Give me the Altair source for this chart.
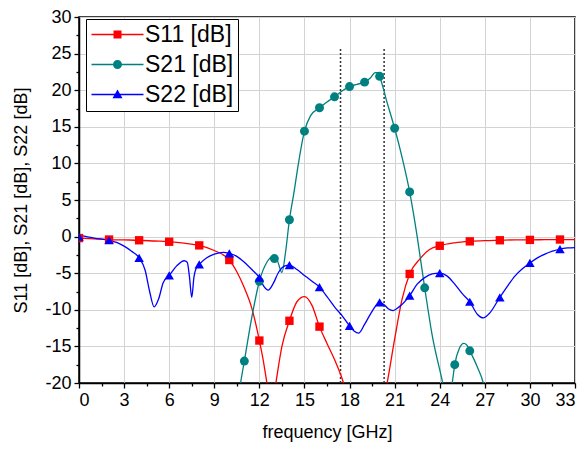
import altair as alt
import pandas as pd

series_names = ["S11 [dB]", "S21 [dB]", "S22 [dB]"]
series_colors = ["#ff0000", "#008080", "#0000ff"]
series_shapes = ["square", "circle", "triangle-up"]

# --- curve samples (values below -20 are off-axis, clipped) ---
s11_freq = [0, 1, 2, 3, 4, 5, 6, 7, 8, 9, 10, 10.5, 11, 11.5, 12, 12.25, 12.5, 12.8, 13.1, 13.5,
            14, 14.5, 15, 15.5, 16, 16.5, 17, 17.6, 18, 19, 20.2, 20.5, 21, 21.5, 22, 22.7, 23.3,
            24, 25, 26, 27, 28, 29, 30, 31, 32, 33]
s11_vals = [-0.2, -0.3, -0.4, -0.45, -0.5, -0.6, -0.7, -0.9, -1.2, -1.9, -3.2, -4.8, -7.0, -9.8,
            -14.2, -16.8, -20, -24, -20, -15.0, -11.5, -8.9, -8.2, -9.4, -12.3, -14.6, -16.8, -20,
            -23, -28, -23, -20, -14.0, -8.5, -5.1, -3.0, -1.8, -1.25, -0.85, -0.65, -0.55, -0.5,
            -0.45, -0.45, -0.42, -0.4, -0.4]

s21_freq = [10.4, 10.75, 11, 11.5, 12, 12.5, 12.9, 13.2, 13.5, 13.75, 14, 14.3, 14.6, 15, 15.4,
            16, 16.5, 17, 17.5, 18, 18.5, 19, 19.4, 19.7, 19.9, 20, 20.5, 21, 21.5, 22, 22.5, 23,
            23.5, 24.2, 24.5, 24.83, 25, 25.3, 25.6, 25.8, 26, 26.5, 26.9, 27.2]
s21_vals = [-25, -20, -17.0, -11.0, -6.1, -3.5, -2.7, -3.3, -4.9, -2.0, 2.3, 6.0, 10.0, 14.4,
            16.5, 17.6, 18.4, 19.1, 19.9, 20.5, 20.8, 21.1, 21.7, 22.4, 22.4, 21.9, 18.3, 14.8,
            10.8, 6.1, 0.0, -7.0, -13.5, -20, -23, -20, -17.5, -15.3, -14.6, -14.8, -15.6, -17.8,
            -20, -23]

s22_freq = [0, 0.5, 1, 2, 2.5, 3, 3.5, 4, 4.4, 4.7, 5.0, 5.3, 5.6, 6, 6.5, 7.0, 7.2, 7.35, 7.5,
            7.65, 7.8, 8, 8.5, 9, 9.6, 10, 10.5, 11, 11.5, 12, 12.3, 12.6, 12.9, 13.3, 13.7, 14,
            14.5, 15, 15.5, 16, 16.5, 17, 17.5, 18, 18.3, 18.6, 19, 19.5, 20, 20.3, 20.6, 20.9,
            21.3, 22, 22.5, 23, 23.5, 24, 24.5, 25, 25.5, 26, 26.5, 26.9, 27.3, 28, 28.5, 29,
            29.5, 30, 30.5, 31, 31.5, 32, 32.5, 33]
s22_vals = [0.2, 0.0, -0.2, -0.5, -0.8, -1.3, -2.0, -2.9, -4.6, -7.5, -9.6, -8.5, -6.3, -5.3,
            -4.0, -3.3, -3.5, -5.5, -8.3, -5.5, -4.3, -3.8, -2.9, -2.4, -2.15, -2.3, -2.7, -3.5,
            -4.5, -5.6, -6.8, -7.3, -6.5, -4.8, -4.0, -3.9, -4.5, -5.3, -6.1, -6.9, -8.2, -9.6,
            -10.8, -12.2, -12.9, -13.2, -12.0, -10.2, -9.0, -9.3, -9.9, -10.1, -9.6, -8.05,
            -6.5, -5.6, -5.1, -5.0, -5.4, -6.5, -7.8, -8.9, -10.6, -11.1, -10.5, -8.3, -6.8,
            -5.4, -4.4, -3.6, -2.9, -2.4, -2.0, -1.7, -1.55, -1.5]

# --- marker positions ---
s11_mark_freq = [0, 2, 4, 6, 8, 10, 12, 14, 16, 22, 24, 26, 28, 30, 32]
s11_mark_vals = [-0.2, -0.4, -0.5, -0.7, -1.2, -3.2, -14.2, -11.5, -12.3, -5.1, -1.25, -0.65,
                 -0.5, -0.45, -0.4]
s21_mark_freq = [11, 12, 13, 14, 15, 16, 17, 18, 19, 20, 21, 22, 23, 25, 26]
s21_mark_vals = [-17.0, -6.1, -3.0, 2.3, 14.4, 17.6, 19.1, 20.5, 21.1, 21.9, 14.8, 6.1, -7.0,
                 -17.5, -15.6]
s22_mark_freq = [0, 2, 4, 6, 8, 10, 12, 14, 16, 18, 20, 22, 24, 26, 28, 30, 32]
s22_mark_vals = [0.0, -0.5, -2.9, -5.3, -3.8, -2.3, -5.6, -3.9, -6.9, -12.2, -9.0, -8.05, -5.0,
                 -8.9, -8.3, -3.6, -1.7]

# --- dotted markers of the pass band ---
cursor_freq = [17.4, 20.3]
cursor_low = [-20, -20]
cursor_high = [25.7, 25.7]

x_ticks = [i * 1.5 for i in range(23)]
y_ticks = [-20 + i * 2.5 for i in range(21)]

FONT = "Liberation Sans"

lines = pd.concat([
    pd.DataFrame({"freq": s11_freq, "val": s11_vals, "series": series_names[0]}),
    pd.DataFrame({"freq": s21_freq, "val": s21_vals, "series": series_names[1]}),
    pd.DataFrame({"freq": s22_freq, "val": s22_vals, "series": series_names[2]}),
])
marks = pd.concat([
    pd.DataFrame({"freq": s11_mark_freq, "val": s11_mark_vals, "series": series_names[0]}),
    pd.DataFrame({"freq": s21_mark_freq, "val": s21_mark_vals, "series": series_names[1]}),
    pd.DataFrame({"freq": s22_mark_freq, "val": s22_mark_vals, "series": series_names[2]}),
])
cursors = pd.DataFrame({"freq": cursor_freq, "lo": cursor_low, "hi": cursor_high})

xscale = alt.Scale(domain=[0, 33], nice=False, zero=False)
yscale = alt.Scale(domain=[-20, 30], nice=False, zero=False)
cscale = alt.Scale(domain=series_names, range=series_colors)

x_axis = alt.Axis(
    values=x_ticks, title="frequency [GHz]", labelOverlap=False,
    labelExpr="datum.value % 3 === 0 ? '' + datum.value : ''",
    tickSize={"condition": {"test": "datum.value % 3 !== 0", "value": 3}, "value": 5},
    gridOpacity={"condition": {"test": "datum.value % 3 !== 0", "value": 0}, "value": 1},
    labelPadding=3, titlePadding=14,
)
y_axis = alt.Axis(
    values=y_ticks, title="S11 [dB], S21 [dB], S22 [dB]", labelOverlap=False,
    labelExpr="datum.value % 5 === 0 ? '' + datum.value : ''",
    tickSize={"condition": {"test": "datum.value % 5 !== 0", "value": 3}, "value": 5},
    gridOpacity={"condition": {"test": "datum.value % 5 !== 0", "value": 0}, "value": 1},
    labelPadding=3, titlePadding=14,
)

X = alt.X("freq:Q", scale=xscale, axis=x_axis)
Y = alt.Y("val:Q", scale=yscale, axis=y_axis)

line_layers = []
point_layers = []
for name, col, shp, sz in zip(series_names, series_colors, series_shapes, [70, 80, 90]):
    line_layers.append(
        alt.Chart(lines).transform_filter(alt.datum.series == name)
        .mark_line(clip=True, strokeWidth=1.3, interpolate="monotone", color=col)
        .encode(x=X, y=Y)
    )
    point_layers.append(
        alt.Chart(marks).transform_filter(alt.datum.series == name)
        .mark_point(filled=True, clip=True, size=sz, opacity=1, shape=shp, color=col)
        .encode(x=X, y=Y)
    )

# legend-only layer: each symbol is a thin bar (the line) with the marker on it
sq = "M-5.2,-0.13H5.2V0.13H-5.2ZM-0.8,-0.8H0.8V0.8H-0.8Z"
ci = "M-5.2,-0.13H5.2V0.13H-5.2ZM0.9,0A0.9,0.9,0,1,1,-0.9,0A0.9,0.9,0,1,1,0.9,0Z"
tr = "M-5.2,-0.13H5.2V0.13H-5.2ZM0,-1L1,0.75H-1Z"
legend = alt.Legend(
    title=None, orient="none", legendX=7, legendY=2,
    symbolSize=100, symbolOffset=16, labelOffset=16,
    labelFontSize=23, labelFont=FONT, labelColor="black", symbolOpacity=1,
    strokeColor="black", fillColor="white", padding=4, rowPadding=6,
)
legend_layer = alt.Chart(marks).transform_filter("datum.val > 1000").mark_point(
    filled=True, size=100, opacity=1, clip=True
).encode(
    x=X, y=Y,
    color=alt.Color("series:N", scale=cscale, legend=legend),
    shape=alt.Shape("series:N", scale=alt.Scale(domain=series_names, range=[sq, ci, tr]),
                    legend=legend),
)

cursor_layer = alt.Chart(cursors).mark_rule(color="#333333", strokeWidth=1.5, strokeDash=[2, 2]).encode(
    x=alt.X("freq:Q", scale=xscale, axis=x_axis),
    y=alt.Y("lo:Q", scale=yscale, axis=y_axis),
    y2="hi:Q",
)

chart = alt.layer(cursor_layer, *line_layers, *point_layers, legend_layer).properties(
    width=496, height=366,
    autosize=alt.AutoSizeParams(type="none"),
    padding={"left": 71, "top": 9, "right": 4, "bottom": 59},
).configure_view(
    stroke="black", strokeWidth=1.5,
).configure_axis(
    labelFont=FONT, titleFont=FONT, labelFontSize=18, titleFontSize=18,
    labelColor="black", titleColor="black", titleFontWeight="normal",
    domainColor="black", domainWidth=1.5, tickColor="black", tickWidth=1.3,
    gridColor="#d3d3d3", gridWidth=1, labelOverlap=False,
)

chart.save("out.html", embed_options={"renderer": "svg", "actions": False})
